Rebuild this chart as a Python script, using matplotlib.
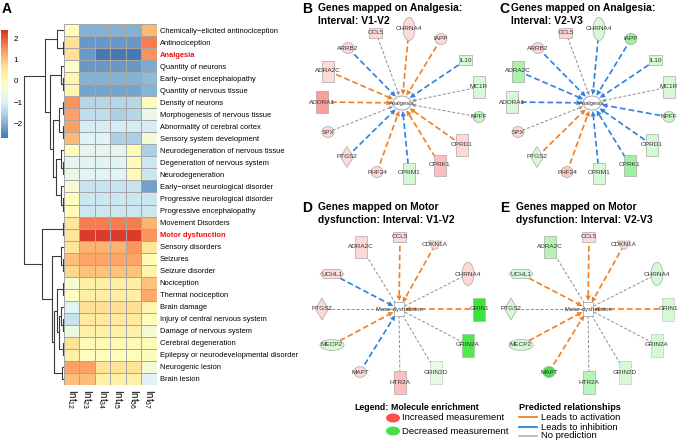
import numpy as np
import matplotlib.pyplot as plt
import matplotlib.patches as mpatches
from matplotlib.colors import LinearSegmentedColormap, to_rgb

plt.rcParams['font.family'] = ['Liberation Sans', 'DejaVu Sans']
plt.rcParams['mathtext.default'] = 'regular'

# ---------------- panel A data ----------------
terms = ["Chemically\u2212elicited antinociception", "Antinociception", "Analgesia",
         "Quantity of neurons", "Early\u2212onset encephalopathy", "Quantity of nervous tissue",
         "Density of neurons", "Morphogenesis of nervous tissue", "Abnormality of cerebral cortex",
         "Sensory system development", "Neurodegeneration of nervous tissue",
         "Degeneration of nervous system", "Neurodegeneration", "Early\u2212onset neurological disorder",
         "Progressive neurological disorder", "Progressive encephalopathy", "Movement Disorders",
         "Motor dysfunction", "Sensory disorders", "Seizures", "Seizure disorder", "Nociception",
         "Thermal nociception", "Brain damage", "Injury of central nervous system",
         "Damage of nervous system", "Cerebral degeneration",
         "Epilepsy or neurodevelopmental disorder", "Neurogenic lesion", "Brain lesion"]
highlight = ["Analgesia", "Motor dysfunction"]
intervals = ["Int$_{12}$", "Int$_{23}$", "Int$_{34}$", "Int$_{45}$", "Int$_{56}$", "Int$_{67}$"]

zscores = np.array([
    [-0.1, -2.0, -2.0, -2.0, -2.0, 1.1],
    [0.65, -2.3, -2.3, -2.3, -2.3, 1.7],
    [0.65, -2.3, -2.65, -2.65, -2.65, 1.5],
    [-0.3, -2.3, -2.3, -2.3, -2.3, -2.1],
    [0.15, -2.0, -2.0, -2.0, -2.0, -1.9],
    [0.15, -2.15, -2.15, -2.15, -2.15, -1.95],
    [1.5, -1.45, -1.45, -1.45, -1.45, -0.05],
    [1.35, -1.35, -1.35, -1.55, -1.45, -0.7],
    [1.35, -1.1, -1.1, -1.1, -1.1, -1.1],
    [1.1, -1.0, -1.0, -1.55, -1.55, -0.5],
    [-0.1, -0.9, -0.9, -0.9, 0.0, -1.55],
    [-0.85, -0.95, -0.95, -0.95, 0.0, -1.2],
    [-0.75, -0.95, -0.95, -0.95, 0.0, -1.2],
    [-0.45, -1.25, -1.25, -1.25, -1.25, -2.2],
    [-0.05, -1.2, -1.2, -1.2, -1.2, -1.2],
    [-0.05, -1.2, -1.2, -1.2, -1.2, -1.2],
    [0.5, 1.7, 1.7, 1.7, 1.7, 1.15],
    [0.6, 2.3, 2.3, 2.3, 2.3, 1.45],
    [0.5, 1.15, 1.15, 1.15, 1.45, 0.5],
    [1.05, 1.3, 1.3, 1.3, 1.3, 0.0],
    [0.8, 1.0, 1.0, 1.0, 1.0, 0.15],
    [-0.4, 0.3, 0.3, 0.3, 0.3, 1.0],
    [-0.2, 0.3, 0.3, 0.3, 0.3, 1.25],
    [-0.95, 0.65, 0.65, 0.65, 0.65, 0.1],
    [-1.25, 0.45, 0.45, 0.45, 0.45, -0.1],
    [-0.65, 0.25, 0.25, 0.25, 0.25, -0.5],
    [0.6, 0.0, 0.0, 0.0, 0.0, 0.0],
    [0.3, -0.1, -0.1, -0.1, -0.1, -0.05],
    [1.35, 1.35, 0.6, 0.6, 0.6, -0.5],
    [1.05, 1.05, 0.25, 0.25, 0.25, -1.0],
])

# row clustering: (left, right, height)
row_tree = (
    ((0, (1, 2, 1), 7),
     ((3, (4, 5, 1), 3),
      (((6, 7, 1), (8, 9, 1), 5), ((10, (11, 12, 1), 3), (13, (14, 15, 1), 3), 8), 11), 14), 19),
    ((16, 17, 1),
     ((18, (19, 20, 1), 3),
      (((21, 22, 1.5), ((23, (24, 25, 1), 3), (26, 27, 1), 5), 7), (28, 29, 2), 10), 12), 22),
    40)

# ---------------- network data ----------------
analgesia_genes = ["CCL5", "CHRNA4", "IAPP", "ARRB2", "IL10", "ADRA2C", "MC1R", "ADORA1",
                   "NPFF", "SPX", "OPRD1", "PTGS2", "OPRK1", "PHF24", "OPRM1"]
analgesia_v12 = [0.2, 0.2, 0.2, 0.2, -0.18, 0.2, -0.18, 0.5, -0.28, 0.2, 0.2, 0.2, 0.33, 0.2, -0.2]
analgesia_v23 = [0.22, -0.18, -0.45, 0.22, -0.18, -0.4, -0.18, -0.18, -0.25, 0.22, -0.2, -0.18, -0.45, 0.28, -0.18]
analgesia_rel12 = ["none", "act", "act", "inh", "inh", "act", "none", "act", "none", "none",
                   "act", "inh", "act", "act", "inh"]
analgesia_rel23 = ["none", "inh", "inh", "inh", "inh", "inh", "none", "inh", "inh", "none",
                   "inh", "act", "inh", "act", "inh"]

motor_genes = ["CCL5", "ADRA2C", "CDKN1A", "UCHL1", "CHRNA4", "PTGS2", "GRIN1", "MECP2",
               "GRIN2A", "MAPT", "HTR2A", "GRIN2D"]
motor_v12 = [0.2, 0.2, 0.2, 0.2, 0.2, 0.2, -0.9, -0.2, -0.8, 0.2, 0.33, -0.12]
motor_v23 = [0.2, -0.35, 0.2, -0.18, -0.18, -0.18, -0.2, -0.18, -0.2, -0.85, -0.33, -0.18]
motor_rel12 = ["act", "none", "act", "inh", "none", "none", "act", "act", "none", "inh", "none", "none"]
motor_rel23 = ["act", "none", "act", "act", "none", "none", "act", "act", "none", "act", "none", "none"]

# node layout around the centre (px offsets, shape, w, h)
analgesia_layout = {
    "CCL5": (-26, -70, 'rect', 13, 10), "CHRNA4": (7, -74, 'ellipse', 12, 23),
    "IAPP": (39, -64, 'ellipse', 12, 11), "ARRB2": (-54, -55, 'ellipse', 12, 11),
    "IL10": (64, -43, 'rect', 13, 10), "ADRA2C": (-74, -32, 'rect', 12, 21),
    "MC1R": (77, -16, 'rect', 12, 22), "ADORA1": (-80, -1, 'rect', 12, 22),
    "NPFF": (77, 14, 'ellipse', 12, 11), "SPX": (-74, 29, 'ellipse', 12, 11),
    "OPRD1": (60, 42, 'rect', 12, 22), "PTGS2": (-55, 54, 'diamond', 13, 21),
    "OPRK1": (38, 62, 'rect', 12, 21), "PHF24": (-25, 69, 'ellipse', 12, 11),
    "OPRM1": (7, 70, 'rect', 12, 21),
}
motor_layout = {
    "CCL5": (1, -72, 'rect', 13, 10), "ADRA2C": (-38, -62, 'rect', 12, 22),
    "CDKN1A": (36, -64, 'tri', 13, 8), "UCHL1": (-67, -35, 'hex', 24, 9),
    "CHRNA4": (69, -35, 'ellipse', 12, 23), "PTGS2": (-77, 0, 'diamond', 13, 22),
    "GRIN1": (80, 0, 'rect_d', 12, 23), "MECP2": (-67, 36, 'ellipse', 24, 11),
    "GRIN2A": (69, 36, 'rect_d', 12, 23), "MAPT": (-39, 63, 'ellipse', 12, 11),
    "HTR2A": (1, 73, 'rect', 12, 23), "GRIN2D": (37, 63, 'rect_d', 12, 23),
}

rel_colors = {"act": "#f07f22", "inh": "#2f7fe0", "none": "#8c8c8c"}

W, H = 685, 441
fig = plt.figure(figsize=(W / 100, H / 100), dpi=100)


def fbox(x0, y0, x1, y1):
    return [x0 / W, 1 - y1 / H, (x1 - x0) / W, (y1 - y0) / H]


# ---------------- heatmap ----------------
cmap = LinearSegmentedColormap.from_list(
    "rdylbu", ["#4575b4", "#91bfdb", "#e0f3f8", "#ffffbf", "#fee090", "#fc8d59", "#d73027"])
vmin, vmax = -2.7, 2.4
hx0, hx1, hy0, hy1 = 64, 157, 24, 385
axh = fig.add_axes(fbox(hx0, hy0, hx1, hy1))
mesh = axh.pcolormesh(zscores, cmap=cmap, vmin=vmin, vmax=vmax,
                      edgecolors='#a6a6a6', linewidth=0.6)
axh.set_xlim(0, zscores.shape[1])
axh.set_ylim(zscores.shape[0], 0)
for s in axh.spines.values():
    s.set_visible(False)
axh.set_yticks(np.arange(len(terms)) + 0.5)
axh.set_yticklabels(terms, fontsize=5.4)
axh.yaxis.tick_right()
axh.tick_params(axis='y', length=0, pad=2)
for lab in axh.get_yticklabels():
    if lab.get_text() in highlight:
        lab.set_color('#ee1111')
        lab.set_fontweight('bold')
axh.set_xticks(np.arange(len(intervals)) + 0.5)
axh.set_xticklabels(intervals, rotation=-90, fontsize=7, va='top')
axh.tick_params(axis='x', length=0, pad=3)

# dendrogram
axd = fig.add_axes(fbox(22, hy0, hx0, hy1))
axd.set_xlim(42, 0)
axd.set_ylim(zscores.shape[0], 0)
axd.axis('off')


def draw_tree(node):
    if isinstance(node, int):
        return node + 0.5, 0
    left, right, h = node
    yl, hl = draw_tree(left)
    yr, hr = draw_tree(right)
    axd.plot([hl, h, h, hr], [yl, yl, yr, yr], color='#3a3a3a', lw=0.8,
             solid_capstyle='butt')
    return (yl + yr) / 2, h


draw_tree(row_tree)

# colorbar
cax = fig.add_axes(fbox(1, 30, 8, 138))
cb = fig.colorbar(mesh, cax=cax, ticks=[-2, -1, 0, 1, 2])
cb.outline.set_visible(False)
cb.ax.set_yticklabels(["\u22122", "\u22121", "0", "1", "2"])
cb.ax.tick_params(length=0, labelsize=5.8, pad=4)

# ---------------- networks ----------------
axn = fig.add_axes([0, 0, 1, 1])
axn.set_xlim(0, W)
axn.set_ylim(H, 0)
axn.axis('off')


def enrich_color(v):
    base = to_rgb('#ff3b3b') if v > 0 else to_rgb('#28e028')
    f = abs(v)
    return tuple(1 - f + f * c for c in base)


def node_patch(x, y, shape, w, h, fc):
    kw = dict(facecolor=fc, edgecolor='#a8a8a8', lw=0.5, zorder=3)
    if shape in ('rect', 'rect_d'):
        if shape == 'rect_d':
            kw['linestyle'] = (0, (2, 1.5))
        return mpatches.Rectangle((x - w / 2, y - h / 2), w, h, **kw)
    if shape == 'ellipse':
        return mpatches.Ellipse((x, y), w, h, **kw)
    if shape == 'diamond':
        pts = [(x, y - h / 2), (x + w / 2, y), (x, y + h / 2), (x - w / 2, y)]
    elif shape == 'tri':
        pts = [(x - w / 2, y - h / 2), (x + w / 2, y - h / 2), (x + w / 6, y + h / 2),
               (x - w / 6, y + h / 2)]
    else:
        pts = [(x - w / 2, y), (x - w / 3, y - h / 2), (x + w / 3, y - h / 2), (x + w / 2, y),
               (x + w / 3, y + h / 2), (x - w / 3, y + h / 2)]
    return mpatches.Polygon(pts, closed=True, **kw)


def draw_network(cx, cy, genes, values, rels, layout, label, ra, rb, gray_heads, box):
    for g, v, rel in zip(genes, values, rels):
        dx, dy, shape, w, h = layout[g]
        x, y = cx + dx, cy + dy
        d = np.hypot(dx, dy)
        ux, uy = dx / d, dy / d
        r_end = 1 / np.sqrt((ux / ra) ** 2 + (uy / rb) ** 2) + 1
        ex, ey = cx + ux * r_end, cy + uy * r_end
        col = rel_colors[rel]
        head = rel != 'none' or gray_heads
        if rel == 'none':
            lw, ls, hl, hw = 0.7, (0, (3, 2)), 4.0, 1.8
        else:
            lw, ls, hl, hw = 1.2, (0, (3.5, 1.8)), 5.5, 2.6
        bx, by = (ex + ux * hl, ey + uy * hl) if head else (ex, ey)
        axn.plot([x, bx], [y, by], color=col, lw=lw, linestyle=ls, zorder=1)
        if head:
            px, py = -uy, ux
            tri = [(ex, ey), (bx + px * hw, by + py * hw), (bx - px * hw, by - py * hw)]
            axn.add_patch(mpatches.Polygon(tri, closed=True, color=col, lw=0, zorder=2))
        axn.add_patch(node_patch(x, y, shape, w, h, enrich_color(v)))
        axn.text(x, y, g, fontsize=4.6, ha='center', va='center', color='#333333', zorder=4)
    if box:
        axn.add_patch(mpatches.Rectangle((cx - ra, cy - rb), 2 * ra, 2 * rb, facecolor='white',
                                         edgecolor='#999999', lw=0.5, zorder=2))
    else:
        axn.add_patch(mpatches.Ellipse((cx, cy), 2 * ra, 2 * rb, facecolor='white',
                                       edgecolor='#999999', lw=0.6, zorder=2))
    axn.text(cx, cy, label, fontsize=4.2, ha='center', va='center', color='#333333', zorder=4)


draw_network(402, 103, analgesia_genes, analgesia_v12, analgesia_rel12, analgesia_layout,
             "Analgesia", 9, 7, True, False)
draw_network(592, 103, analgesia_genes, analgesia_v23, analgesia_rel23, analgesia_layout,
             "Analgesia", 9, 7, True, False)
draw_network(399, 309, motor_genes, motor_v12, motor_rel12, motor_layout,
             "Motor dysfunction", 5, 7, False, True)
draw_network(588, 309, motor_genes, motor_v23, motor_rel23, motor_layout,
             "Motor dysfunction", 5, 7, False, True)

# panel letters and titles
fig.text(2 / W, 1 - 9 / H, "A", fontsize=10, fontweight='bold', va='center')
titles = [("B", 302, 318, 8, "Genes mapped on Analgesia:", "Interval: V1-V2"),
          ("C", 499, 511, 8, "Genes mapped on Analgesia:", "Interval: V2-V3"),
          ("D", 302, 318, 207, "Genes mapped on Motor", "dysfunction: Interval: V1-V2"),
          ("E", 500, 516, 207, "Genes mapped on Motor", "dysfunction: Interval: V2-V3")]
for let, lx, tx, ty, l1, l2 in titles:
    axn.text(lx, ty + 1, let, fontsize=10, fontweight='bold', va='center')
    axn.text(tx, ty, l1, fontsize=7.4, fontweight='bold', va='center')
    axn.text(tx, ty + 13, l2, fontsize=7.4, fontweight='bold', va='center')

# legend
axn.text(354, 407, "Legend:", fontsize=6.3, fontweight='bold', va='center')
axn.text(391, 407, "Molecule enrichment", fontsize=6.3, fontweight='bold', va='center')
leg_items = [("Increased measurement", '#ff4d4d', 418), ("Decreased measurement", '#44e044', 431)]
for lab, col, y in leg_items:
    axn.add_patch(mpatches.Ellipse((393, y), 14, 9, facecolor=col, edgecolor='none'))
    axn.text(402, y, lab, fontsize=6.8, va='center')
axn.text(519, 407, "Predicted relationships", fontsize=6.6, fontweight='bold', va='center')
rel_items = [("Leads to activation", "act", 417), ("Leads to inhibition", "inh", 427),
             ("No prediction", "none", 436)]
for lab, rel, y in rel_items:
    axn.plot([519, 537], [y, y], color=rel_colors[rel] if rel != 'none' else '#b8b8b8', lw=1.3)
    axn.text(541, y, lab, fontsize=6.8, va='center')

fig.savefig("out.png", dpi=100)
